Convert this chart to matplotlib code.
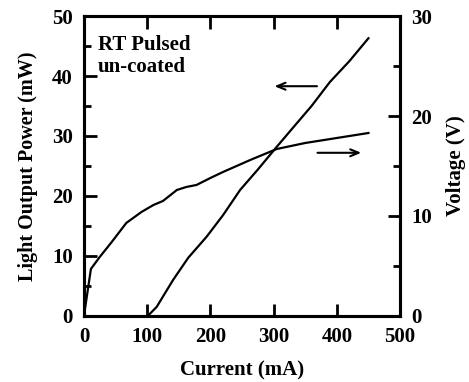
"""
L-I-V curve of the un-coated laser, RT pulsed.
"""
import matplotlib.pyplot as plt
from matplotlib.ticker import MultipleLocator

plt.rcParams["font.family"] = "Liberation Serif"
plt.rcParams["font.weight"] = "bold"

# light output (left axis)
I_light = [101, 115, 141, 165, 194, 220, 247, 275, 305, 330, 360, 389, 420, 450]
P_light = [0, 1.5, 6.0, 9.7, 13.2, 16.8, 21.0, 24.4, 28.2, 31.3, 35.0, 39.0, 42.5, 46.3]

# voltage (right axis)
I_volt = [0, 11, 25, 44, 67, 91, 110, 125, 147, 162, 178, 200, 220, 263, 305, 350, 400, 450]
V_volt = [0, 4.7, 5.9, 7.4, 9.3, 10.4, 11.1, 11.5, 12.6, 12.9, 13.1, 13.8, 14.4, 15.6,
          16.7, 17.3, 17.8, 18.3]

fig = plt.figure(figsize=(4.69, 3.82), dpi=100)
ax = fig.add_axes([0.179, 0.173, 0.674, 0.785])
ax2 = ax.twinx()

ax.plot(I_light, P_light, color="black", lw=1.6)
ax2.plot(I_volt, V_volt, color="black", lw=1.6)

ax.set_xlim(0, 500)
ax.set_ylim(0, 50)
ax2.set_ylim(0, 30)

ax.xaxis.set_major_locator(MultipleLocator(100))
ax.yaxis.set_major_locator(MultipleLocator(10))
ax.yaxis.set_minor_locator(MultipleLocator(5))
ax2.yaxis.set_major_locator(MultipleLocator(10))
ax2.yaxis.set_minor_locator(MultipleLocator(5))

ax.tick_params(axis="x", which="both", direction="in", top=True, length=9, width=2, labelsize=15, pad=8)
ax.tick_params(axis="y", which="major", direction="in", length=9, width=2, labelsize=15, pad=8)
ax.tick_params(axis="y", which="minor", direction="in", length=5, width=2)
ax2.tick_params(axis="y", which="major", direction="in", length=9, width=2, labelsize=15, pad=8)
ax2.tick_params(axis="y", which="minor", direction="in", length=5, width=2)

for a in (ax, ax2):
    for s in a.spines.values():
        s.set_linewidth(2.2)

ax.set_xlabel("Current (mA)", fontsize=15, fontweight="bold", labelpad=10)
ax.set_ylabel("Light Output Power (mW)", fontsize=14.5, fontweight="bold", labelpad=10)
ax2.set_ylabel("Voltage (V)", fontsize=15, fontweight="bold", labelpad=10)

ax.text(22, 46.8, "RT Pulsed\nun-coated", fontsize=15, fontweight="bold",
        va="top", ha="left", linespacing=1.1)

ax.annotate("", xy=(297, 38.3), xytext=(373, 38.3),
            arrowprops=dict(arrowstyle="->,head_length=0.6,head_width=0.25", lw=1.5, color="black"))
ax.annotate("", xy=(443, 27.2), xytext=(365, 27.2),
            arrowprops=dict(arrowstyle="->,head_length=0.6,head_width=0.25", lw=1.5, color="black"))

plt.savefig("out.png", dpi=100)
